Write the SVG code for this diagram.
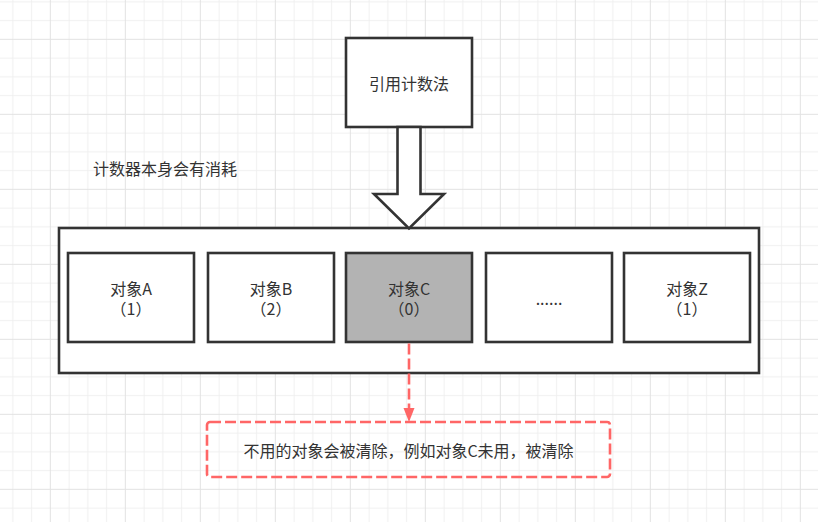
<svg xmlns="http://www.w3.org/2000/svg" width="818" height="522" viewBox="0 0 818 522">
  <defs>
    <pattern id="grid" patternUnits="userSpaceOnUse" x="40.925" y="29.925" width="75" height="75">
      <path d="M28.125 0V75M46.875 0V75M65.625 0V75M0 28.125H75M0 46.875H75M0 65.625H75" stroke="#f0f0f0" stroke-width="1" fill="none"/>
      <path d="M9.375 0V75M0 9.375H75" stroke="#e2e2e2" stroke-width="1" fill="none"/>
    </pattern>
    <marker id="redArrow" markerUnits="userSpaceOnUse" markerWidth="15" markerHeight="12" refX="8" refY="6" orient="auto" viewBox="0 0 15 12">
      <path d="M0 0.5L14 6L0 11.5Z" fill="#FF6666"/>
    </marker>
    <style>
      .box { fill: #ffffff; stroke: #333333; stroke-width: 2.6; }
      .gray { fill: #B3B3B3; }
      .t { font-family: "Noto Sans CJK SC", "Microsoft YaHei", sans-serif; font-size: 16px; fill: #333333; text-anchor: middle; dominant-baseline: central; }
      .left { text-anchor: start; }
      .dash { fill: none; stroke: #FF6666; stroke-width: 2.6; stroke-dasharray: 11 4; }
    </style>
  </defs>
  <rect x="0" y="0" width="818" height="522" fill="#ffffff"/>
  <rect x="0" y="0" width="818" height="522" fill="url(#grid)"/>

  <g id="refcount">
    <rect class="box" x="346" y="38" width="126" height="89"/>
    <text class="t" x="409" y="83">引用计数法</text>
  </g>

  <g id="note-cost">
    <text class="t left" x="93" y="168">计数器本身会有消耗</text>
  </g>

  <g id="container">
    <rect class="box" x="59" y="228" width="700" height="145"/>
  </g>

  <g id="objA">
    <rect class="box" x="68" y="253" width="126" height="89"/>
    <text class="t" x="131" y="288">对象A</text>
    <text class="t" x="131" y="308">（1）</text>
  </g>
  <g id="objB">
    <rect class="box" x="208" y="253" width="126" height="89"/>
    <text class="t" x="271" y="288">对象B</text>
    <text class="t" x="271" y="308">（2）</text>
  </g>
  <g id="objC">
    <rect class="box gray" x="346" y="253" width="126" height="89"/>
    <text class="t" x="409" y="288">对象C</text>
    <text class="t" x="409" y="308">（0）</text>
  </g>
  <g id="objEtc">
    <rect class="box" x="486" y="253" width="126" height="89"/>
    <text class="t" x="549" y="298">......</text>
  </g>
  <g id="objZ">
    <rect class="box" x="624" y="253" width="126" height="89"/>
    <text class="t" x="687" y="288">对象Z</text>
    <text class="t" x="687" y="308">（1）</text>
  </g>

  <g id="note-clear">
    <rect class="dash" x="207" y="422" width="403" height="55" rx="3" ry="3"/>
    <text class="t" x="408.5" y="450">不用的对象会被清除，例如对象C未用，被清除</text>
  </g>

  <g id="connectors">
    <polygon class="box" points="397.5,127 420.5,127 420.5,194 444,194 409,228.5 374,194 397.5,194"/>
    <path class="dash" d="M409 343.5V416" marker-end="url(#redArrow)"/>
  </g>
</svg>
